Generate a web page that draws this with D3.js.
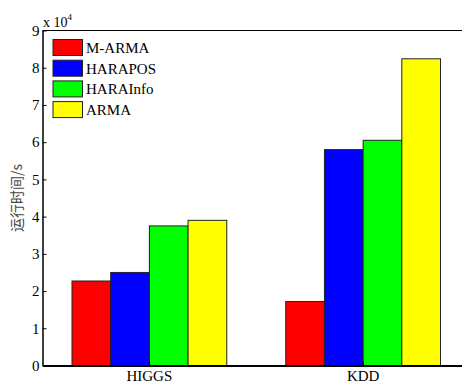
<!DOCTYPE html>
<html>
<head>
<meta charset="utf-8">
<script src="https://cdn.jsdelivr.net/npm/d3@7"></script>
<style>
  body { margin: 0; background: #fff; }
  svg { display: block; }
  text { font-family: "Liberation Serif", "Times New Roman", serif; }
</style>
</head>
<body>
<svg width="462" height="383"></svg>
<script>
// data (units of 1e4 seconds)
var datasets = ["HIGGS", "KDD"];
var methods = ["M-ARMA", "HARAPOS", "HARAInfo", "ARMA"];
var colors = ["#ff0000", "#0000ff", "#00ff00", "#ffff00"];
var higgs = [2.27, 2.5, 3.75, 3.9];
var kdd = [1.72, 5.8, 6.05, 8.24];
var yTicks = [0, 1, 2, 3, 4, 5, 6, 7, 8, 9];

var values = [higgs, kdd];

var svg = d3.select("svg");
var margin = {left: 42.5, top: 30.5, right: 470, bottom: 365.5};

var x = d3.scaleBand()
    .domain(datasets)
    .range([margin.left, margin.right])
    .paddingInner(0.276)
    .paddingOuter(0.138);

var xs = d3.scaleBand()
    .domain(methods)
    .range([0, x.bandwidth()]);

var y = d3.scaleLinear()
    .domain([0, 9])
    .range([margin.bottom, margin.top]);

// bars
var groups = svg.append("g").selectAll("g")
    .data(datasets)
  .enter().append("g")
    .attr("transform", function (d) { return "translate(" + x(d) + ",0)"; });

groups.selectAll("rect")
    .data(function (d, i) {
        return values[i].map(function (v, j) { return {m: methods[j], v: v, c: colors[j]}; });
    })
  .enter().append("rect")
    .attr("x", function (d) { return xs(d.m); })
    .attr("y", function (d) { return y(d.v); })
    .attr("width", xs.bandwidth())
    .attr("height", function (d) { return y(0) - y(d.v); })
    .attr("fill", function (d) { return d.c; })
    .attr("stroke", "#222")
    .attr("stroke-width", 1);

// box
svg.append("line")
    .attr("x1", margin.left).attr("x2", margin.right)
    .attr("y1", margin.top).attr("y2", margin.top)
    .attr("stroke", "#000").attr("stroke-width", 1);

// y axis
var yAxis = d3.axisLeft(y)
    .tickValues(yTicks)
    .tickSizeInner(-4)
    .tickSizeOuter(0)
    .tickPadding(3);

var gy = svg.append("g")
    .attr("transform", "translate(" + margin.left + ",0)")
    .call(yAxis);
gy.attr("font-family", null);
gy.select(".domain").attr("stroke-width", 1.5);
gy.selectAll("text")
    .style("font-family", "'Liberation Serif', serif")
    .style("font-size", "15px")
    .attr("fill", "#000");

// x axis
var xAxis = d3.axisBottom(x)
    .tickSizeInner(-4)
    .tickSizeOuter(0)
    .tickPadding(4.5);

var gx = svg.append("g")
    .attr("transform", "translate(0," + margin.bottom + ")")
    .call(xAxis);
gx.attr("font-family", null);
gx.select(".domain").attr("stroke-width", 2);
gx.selectAll("text")
    .style("font-family", "'Liberation Serif', serif")
    .style("font-size", "15px")
    .attr("fill", "#000");

// exponent label
var ex = svg.append("text")
    .attr("x", 43)
    .attr("y", 27)
    .style("font-size", "14px");
ex.append("tspan").text("x 10");
ex.append("tspan").attr("dy", -7).style("font-size", "9px").text("4");

// y label
svg.append("text")
    .attr("transform", "translate(22," + ((margin.top + margin.bottom) / 2) + ") rotate(-90)")
    .attr("text-anchor", "middle")
    .style("font-family", "'Noto Sans CJK SC', sans-serif")
    .style("font-size", "14px")
    .attr("fill", "#444")
    .text("运行时间/s");

// legend
var legend = svg.append("g").selectAll("g")
    .data(methods)
  .enter().append("g")
    .attr("transform", function (d, i) { return "translate(53," + (39.5 + i * 20.7) + ")"; });

legend.append("rect")
    .attr("width", 29.5)
    .attr("height", 16)
    .attr("fill", function (d, i) { return colors[i]; })
    .attr("stroke", "#222");

legend.append("text")
    .attr("x", 33)
    .attr("y", 13.5)
    .style("font-size", "15px")
    .text(function (d) { return d; });
</script>
</body>
</html>
